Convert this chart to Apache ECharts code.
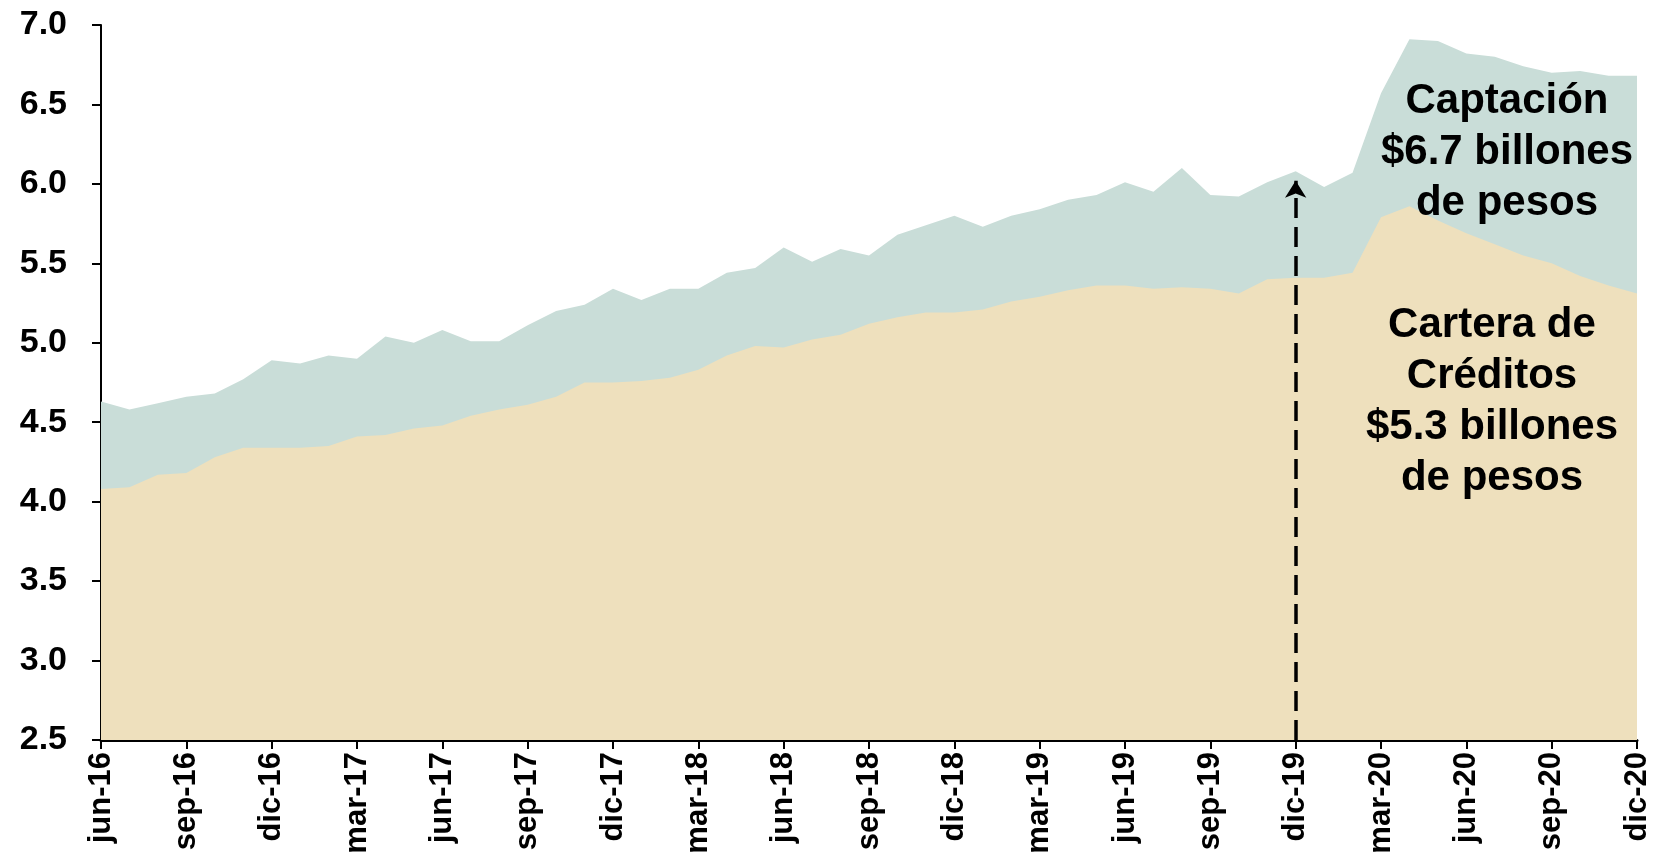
<!DOCTYPE html>
<html>
<head>
<meta charset="utf-8">
<script src="https://cdn.jsdelivr.net/npm/echarts@6/dist/echarts.min.js"></script>
<style>
  html, body { margin: 0; padding: 0; background: #FFFFFF; }
  #chart { width: 1658px; height: 856px; }
</style>
</head>
<body>
<div id="chart"></div>
<script>
const months = [
    'jun-16', 'jul-16', 'ago-16', 'sep-16', 'oct-16', 'nov-16', 'dic-16',
    'ene-17', 'feb-17', 'mar-17', 'abr-17', 'may-17', 'jun-17', 'jul-17', 'ago-17', 'sep-17', 'oct-17', 'nov-17', 'dic-17',
    'ene-18', 'feb-18', 'mar-18', 'abr-18', 'may-18', 'jun-18', 'jul-18', 'ago-18', 'sep-18', 'oct-18', 'nov-18', 'dic-18',
    'ene-19', 'feb-19', 'mar-19', 'abr-19', 'may-19', 'jun-19', 'jul-19', 'ago-19', 'sep-19', 'oct-19', 'nov-19', 'dic-19',
    'ene-20', 'feb-20', 'mar-20', 'abr-20', 'may-20', 'jun-20', 'jul-20', 'ago-20', 'sep-20', 'oct-20', 'nov-20', 'dic-20'
];

// billones de pesos
const captacion = [
    4.63, 4.58, 4.62, 4.66, 4.68, 4.77, 4.89, 4.87, 4.92, 4.90,
    5.04, 5.00, 5.08, 5.01, 5.01, 5.11, 5.20, 5.24, 5.34, 5.27,
    5.34, 5.34, 5.44, 5.47, 5.60, 5.51, 5.59, 5.55, 5.68, 5.74,
    5.80, 5.73, 5.80, 5.84, 5.90, 5.93, 6.01, 5.95, 6.10, 5.93,
    5.92, 6.01, 6.08, 5.98, 6.07, 6.57, 6.91, 6.90, 6.82, 6.80,
    6.74, 6.70, 6.71, 6.68, 6.68
];

const cartera = [
    4.08, 4.09, 4.17, 4.18, 4.28, 4.34, 4.34, 4.34, 4.35, 4.41,
    4.42, 4.46, 4.48, 4.54, 4.58, 4.61, 4.66, 4.75, 4.75, 4.76,
    4.78, 4.83, 4.92, 4.98, 4.97, 5.02, 5.05, 5.12, 5.16, 5.19,
    5.19, 5.21, 5.26, 5.29, 5.33, 5.36, 5.36, 5.34, 5.35, 5.34,
    5.31, 5.40, 5.41, 5.41, 5.44, 5.79, 5.86, 5.77, 5.69, 5.62,
    5.55, 5.50, 5.42, 5.36, 5.31
];

const arrowMonth = 'dic-19';
const arrowTop = 6.02;

const font = "'Liberation Sans', Arial, Helvetica, sans-serif";

const chart = echarts.init(document.getElementById('chart'), null, { renderer: 'canvas' });

chart.setOption({
    animation: false,
    backgroundColor: '#FFFFFF',
    grid: { left: 101, right: 21, top: 25, bottom: 116, outerBoundsMode: 'none', containLabel: false },
    xAxis: {
        type: 'category',
        data: months,
        boundaryGap: false,
        axisLine: { lineStyle: { color: '#000000', width: 3 } },
        axisTick: { interval: 2, length: 9, lineStyle: { color: '#000000', width: 2 } },
        axisLabel: {
            interval: 2, rotate: 90, margin: 12,
            fontFamily: font, fontSize: 31, fontWeight: 'bold', color: '#000000'
        },
        splitLine: { show: false }
    },
    yAxis: {
        type: 'value',
        min: 2.5, max: 7, interval: 0.5,
        axisLine: { show: true, lineStyle: { color: '#000000', width: 2 } },
        axisTick: { show: true, length: 9, lineStyle: { color: '#000000', width: 2 } },
        axisLabel: {
            margin: 34, formatter: v => v.toFixed(1),
            fontFamily: font, fontSize: 34, fontWeight: 'bold', color: '#000000'
        },
        splitLine: { show: false }
    },
    series: [
        {
            name: 'Captación',
            type: 'line',
            data: captacion,
            showSymbol: false,
            lineStyle: { width: 0 },
            areaStyle: { color: '#C9DDD8', opacity: 1, origin: 'start' },
            z: 1
        },
        {
            name: 'Cartera de Créditos',
            type: 'line',
            data: cartera,
            showSymbol: false,
            lineStyle: { width: 0 },
            areaStyle: { color: '#EEE0BD', opacity: 1, origin: 'start' },
            z: 2,
            markLine: {
                silent: true,
                symbol: ['none', 'arrow'],
                symbolSize: [16, 17],
                label: { show: false },
                lineStyle: { color: '#000000', width: 3.5, type: [20, 9] },
                data: [[
                    { coord: [arrowMonth, 2.5] },
                    { coord: [arrowMonth, arrowTop] }
                ]]
            }
        }
    ],
    graphic: [
        {
            type: 'text', x: 1507, y: 76, z: 10,
            style: {
                text: 'Captación\n$6.7 billones\nde pesos',
                align: 'center', verticalAlign: 'top',
                font: 'bold 42px ' + font, lineHeight: 51, fill: '#000000'
            }
        },
        {
            type: 'text', x: 1492, y: 300, z: 10,
            style: {
                text: 'Cartera de\nCréditos\n$5.3 billones\nde pesos',
                align: 'center', verticalAlign: 'top',
                font: 'bold 42px ' + font, lineHeight: 51, fill: '#000000'
            }
        }
    ]
});
</script>
</body>
</html>
